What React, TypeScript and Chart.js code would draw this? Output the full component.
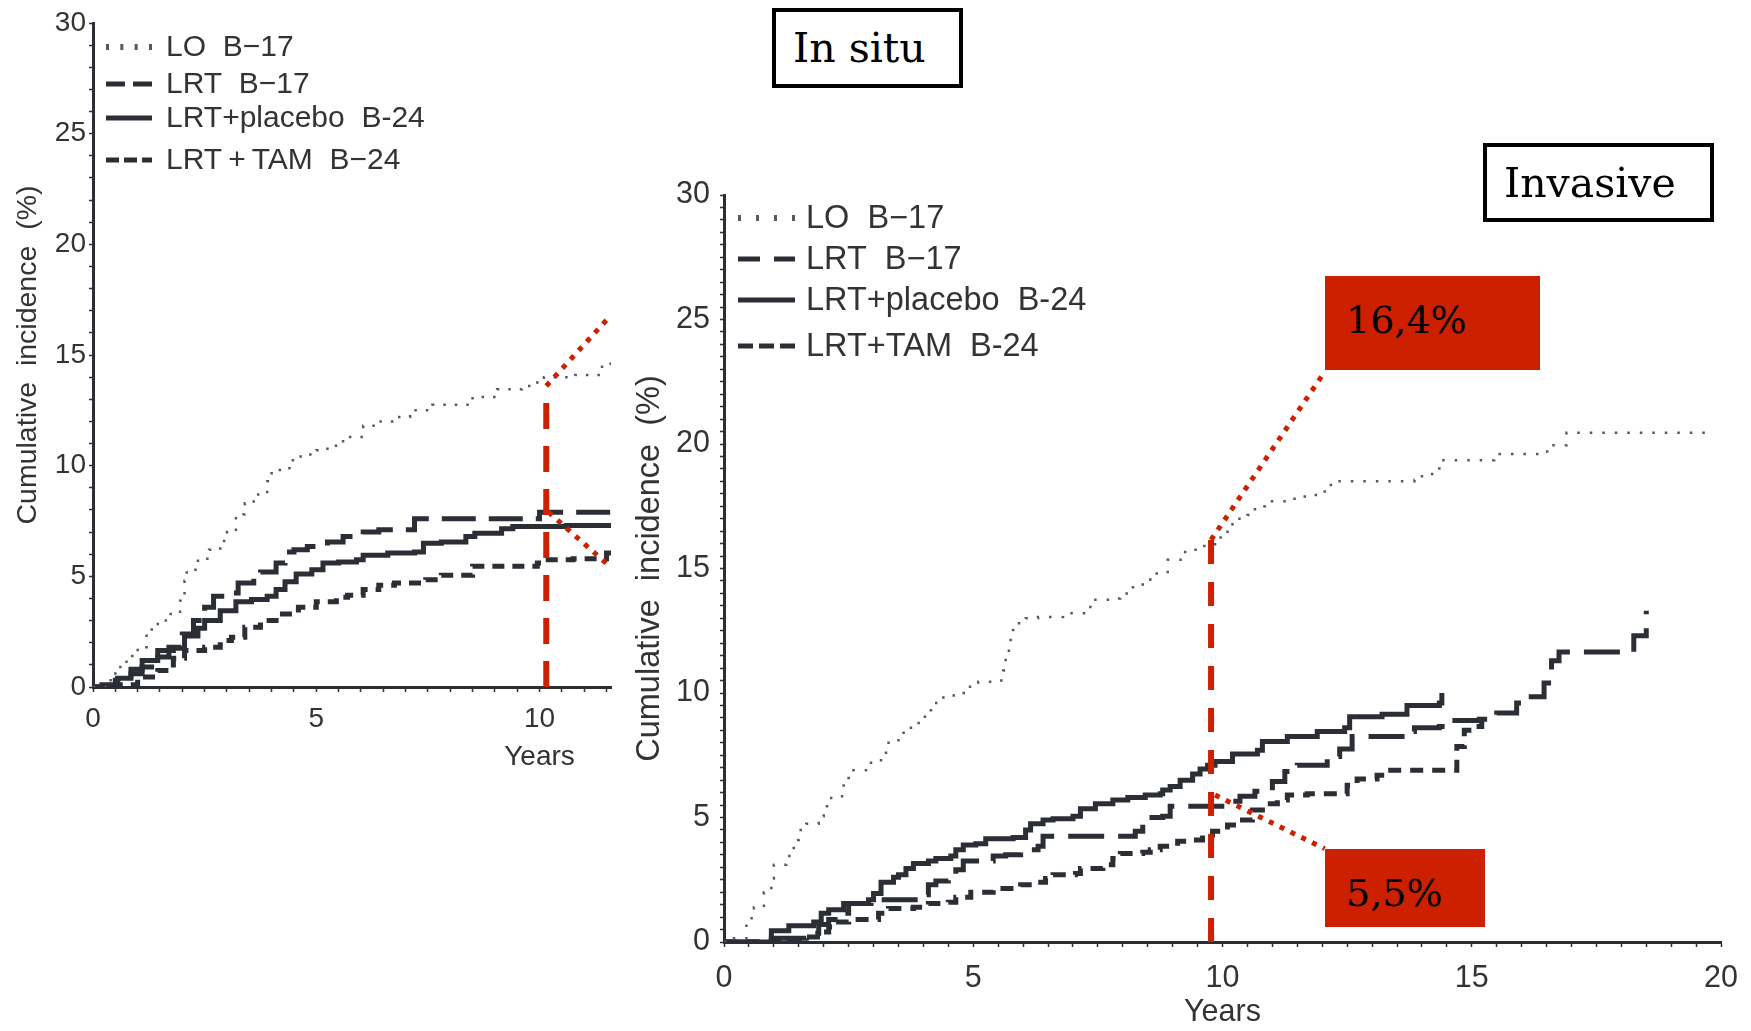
import React, { useEffect, useRef } from 'react';
import { Chart, registerables } from 'chart.js';

Chart.register(...registerables);

type Pt = [number, number];

// ---------------- DATA ----------------
// Left panel: "In situ"
const IN_SITU_X_MAX = 11.6;
const IN_SITU_LO: Pt[] = [[0,0],[0.3,0.3],[0.5,0.9],[0.75,1.4],[1.0,1.8],[1.2,2.6],[1.45,3.0],[1.7,3.3],[1.95,3.9],[2.05,4.8],[2.1,5.3],[2.35,5.8],[2.6,6.2],[2.85,6.6],[3.0,7.0],[3.2,7.8],[3.4,8.3],[3.6,8.7],[3.9,9.3],[4.0,9.8],[4.4,10.25],[4.65,10.5],[5.0,10.7],[5.25,10.9],[5.6,11.3],[6.05,11.8],[6.4,12.0],[6.75,12.2],[7.1,12.5],[7.6,12.75],[8.2,12.75],[8.5,13.1],[9.05,13.45],[9.6,13.6],[9.95,13.85],[10.1,14.0],[10.8,14.1],[11.4,14.6],[11.6,14.6]];
const IN_SITU_LRT: Pt[] = [[0,0],[0.5,0.3],[0.85,0.6],[1.1,0.9],[1.45,1.35],[1.7,1.8],[2.0,2.4],[2.25,3.0],[2.5,3.6],[2.7,4.1],[2.95,4.25],[3.25,4.7],[3.6,5.0],[3.75,5.2],[4.1,5.6],[4.3,6.1],[4.5,6.2],[4.8,6.35],[5.25,6.55],[5.6,6.8],[6.05,7.0],[6.4,7.1],[7.2,7.6],[10.0,7.9],[11.6,7.9]];
const IN_SITU_PLACEBO: Pt[] = [[0,0],[0.2,0.1],[0.55,0.4],[0.85,0.8],[1.1,1.2],[1.45,1.65],[1.8,1.75],[2.05,2.3],[2.35,2.65],[2.5,3.0],[2.85,3.45],[3.2,3.85],[3.55,3.95],[3.9,4.1],[4.1,4.4],[4.3,4.75],[4.55,5.1],[4.9,5.3],[5.15,5.6],[5.5,5.65],[5.9,5.75],[6.05,5.95],[6.6,6.05],[7.2,6.1],[7.4,6.5],[7.8,6.55],[8.35,6.8],[8.55,6.95],[9.15,7.15],[9.4,7.25],[10.6,7.3],[11.6,7.3]];
const IN_SITU_TAM: Pt[] = [[0,0],[0.5,0.1],[1.0,0.45],[1.45,0.75],[1.8,1.3],[2.05,1.65],[2.5,1.8],[2.85,2.1],[3.1,2.25],[3.4,2.7],[3.75,3.0],[4.1,3.3],[4.6,3.6],[5.0,3.85],[5.45,4.05],[5.7,4.15],[6.05,4.4],[6.4,4.6],[6.75,4.7],[7.45,4.85],[7.8,5.05],[8.5,5.45],[9.95,5.6],[10.1,5.75],[10.75,5.8],[11.5,6.05],[11.6,6.05]];
const IN_SITU_MARK_V: Pt[] = [[10.15,0],[10.15,13.6]];
const IN_SITU_MARK_UP: Pt[] = [[10.15,13.6],[11.6,16.8]];
const IN_SITU_MARK_DOWN: Pt[] = [[10.2,7.9],[11.6,5.4]];

// Right panel: "Invasive"
const INVASIVE_X_MAX = 20;
const INVASIVE_LO: Pt[] = [[0,0],[0.1,0.15],[0.45,0.95],[0.6,1.4],[0.8,2.0],[0.95,2.55],[1.0,3.1],[1.25,3.45],[1.4,4.1],[1.5,4.5],[1.65,4.75],[1.9,5.05],[2.0,5.45],[2.15,5.85],[2.4,6.4],[2.5,6.9],[2.95,7.2],[3.15,7.45],[3.25,8.0],[3.5,8.4],[3.75,8.8],[3.95,9.05],[4.15,9.6],[4.4,9.9],[4.65,10.0],[4.9,10.25],[5.1,10.45],[5.4,10.5],[5.6,10.9],[5.65,11.7],[5.75,12.25],[5.8,12.8],[6.05,13.0],[6.3,13.05],[6.8,13.2],[7.3,13.45],[7.45,13.75],[7.8,13.8],[7.95,14.0],[8.15,14.25],[8.4,14.55],[8.55,14.8],[8.9,15.35],[9.25,15.75],[9.55,15.9],[9.85,16.25],[10.1,16.6],[10.2,17.0],[10.5,17.15],[10.65,17.5],[10.85,17.7],[11.4,17.8],[11.65,17.95],[11.9,18.0],[12.05,18.35],[12.3,18.5],[13.85,18.55],[14.0,18.8],[14.3,18.9],[14.35,19.35],[15.45,19.6],[16.4,19.7],[16.55,19.95],[16.9,20.45],[19.8,20.45]];
const INVASIVE_LRT: Pt[] = [[0,0],[0.95,0.15],[1.65,0.35],[1.9,0.7],[2.1,0.9],[2.4,1.15],[2.5,1.55],[2.95,1.7],[3.95,1.9],[4.1,2.3],[4.25,2.45],[4.5,2.7],[4.65,2.9],[4.8,3.25],[5.4,3.45],[5.65,3.5],[5.95,3.7],[6.3,3.85],[6.4,4.25],[8.25,4.45],[8.4,5.0],[8.8,5.05],[8.95,5.45],[10.1,5.5],[10.2,5.65],[10.35,5.85],[10.65,6.05],[11.0,6.45],[11.25,6.85],[11.5,7.1],[12.1,7.45],[12.35,7.75],[12.6,8.25],[13.8,8.45],[13.85,8.6],[14.35,8.65],[14.6,8.9],[15.15,8.95],[15.5,9.2],[15.9,9.6],[16.05,9.85],[16.45,10.4],[16.6,11.3],[16.75,11.65],[18.25,12.3],[18.5,13.3]];
const INVASIVE_PLACEBO: Pt[] = [[0,0],[0.95,0.45],[1.3,0.65],[1.8,0.8],[1.95,1.15],[2.1,1.3],[2.4,1.55],[2.9,1.7],[3.0,1.95],[3.15,2.4],[3.4,2.6],[3.5,2.7],[3.65,2.95],[3.8,3.15],[4.1,3.25],[4.25,3.35],[4.55,3.45],[4.65,3.7],[4.8,3.9],[5.05,3.95],[5.25,4.15],[5.8,4.2],[6.05,4.5],[6.15,4.75],[6.4,4.9],[6.6,4.95],[7.0,5.05],[7.15,5.35],[7.45,5.55],[7.8,5.7],[8.1,5.8],[8.45,5.9],[8.75,5.95],[8.8,6.1],[8.95,6.25],[9.15,6.5],[9.4,6.75],[9.55,6.95],[9.7,7.1],[9.85,7.25],[10.2,7.55],[10.7,7.7],[10.8,8.05],[11.3,8.25],[11.9,8.45],[12.45,8.6],[12.55,9.05],[13.2,9.15],[13.7,9.5],[14.35,9.6],[14.4,10.0]];
const INVASIVE_TAM: Pt[] = [[0,0],[1.3,0.05],[1.65,0.2],[1.95,0.4],[2.1,0.6],[2.25,0.8],[2.5,0.9],[3.1,1.15],[3.3,1.35],[3.8,1.4],[4.1,1.55],[4.5,1.6],[4.65,1.8],[4.95,2.0],[5.4,2.15],[5.95,2.3],[6.25,2.4],[6.45,2.55],[6.6,2.7],[7.05,2.75],[7.15,2.95],[7.6,3.1],[7.8,3.35],[7.95,3.55],[8.4,3.6],[8.55,3.7],[8.75,3.85],[9.1,4.05],[9.3,4.1],[9.6,4.3],[9.8,4.45],[10.1,4.7],[10.35,4.9],[10.6,5.3],[10.8,5.55],[11.1,5.7],[11.3,5.9],[11.7,5.95],[12.5,6.3],[12.7,6.55],[13.1,6.7],[13.25,6.9],[14.7,7.85],[14.85,8.5],[15.0,8.65],[15.2,8.9]];
const INVASIVE_MARK_V: Pt[] = [[9.77,0],[9.77,16.15]];
const INVASIVE_MARK_UP: Pt[] = [[9.77,16.15],[12.05,22.9]];
const INVASIVE_MARK_DOWN: Pt[] = [[9.85,5.9],[12.05,3.75]];

const Y_MAX = 30;
const X_LABEL_EVERY = 5;
const Y_LABEL_EVERY = 5;
const YEARS_AT = 10;

const IN_SITU_LABELS = ['LO  B\u221217', 'LRT  B\u221217', 'LRT+placebo  B-24', 'LRT\u2009+\u2009TAM  B\u221224'];
const INVASIVE_LABELS = ['LO  B\u221217', 'LRT  B\u221217', 'LRT+placebo  B-24', 'LRT+TAM  B-24'];
const Y_TITLE = 'Cumulative  incidence  (%)';
const X_TITLE = 'Years';

// ---------------- STYLE ----------------
const DARK = '#2b2e34';
const GREY = '#55585e';
const TEXT = '#333333';
const RED = '#cc2000';
const SANS = '"Liberation Sans", Arial, sans-serif';
const SERIF = '"DejaVu Serif", Georgia, serif';

interface PanelSpec {
  left: number; top: number; w: number; h: number;
  padTop: number; padRight: number; yAxisW: number; xAxisH: number;
  xMax: number; yStep: number;
  series: Pt[][]; labels: string[]; marks: Pt[][];
  tickFont: number; legendFont: number; titleFont: number; titlePad: number;
  yTickPad: number; xTickPad: number;
  legendRows: number[]; legendX0: number; legendX1: number; legendTextX: number;
  legendDashes: number[][]; lineDashes: number[][]; redDash: number[];
  yearsDy: number;
}

function decorPlugin(spec: PanelSpec) {
  return {
    id: 'decor',
    afterDraw(chart: any) {
      const { ctx, chartArea: ca } = chart;
      const xs = chart.scales.x;
      ctx.save();
      spec.legendRows.forEach((dy, i) => {
        const y = ca.top + dy;
        const x0 = ca.left + spec.legendX0;
        const x1 = ca.left + spec.legendX1;
        if (i === 0) {
          ctx.fillStyle = GREY;
          const n = 4;
          for (let k = 0; k < n; k++) {
            const px = x0 + (k * (x1 - x0 - 3)) / (n - 1);
            ctx.fillRect(px, y - 3, 3, 6);
          }
        } else {
          ctx.strokeStyle = DARK;
          ctx.lineWidth = 5;
          ctx.setLineDash(spec.legendDashes[i]);
          ctx.beginPath();
          ctx.moveTo(x0, y);
          ctx.lineTo(x1, y);
          ctx.stroke();
          ctx.setLineDash([]);
        }
        ctx.fillStyle = TEXT;
        ctx.font = `${spec.legendFont}px ${SANS}`;
        ctx.textBaseline = 'middle';
        ctx.textAlign = 'left';
        ctx.fillText(spec.labels[i], ca.left + spec.legendTextX, y + 1);
      });
      ctx.fillStyle = TEXT;
      ctx.font = `${spec.tickFont}px ${SANS}`;
      ctx.textAlign = 'center';
      ctx.textBaseline = 'middle';
      ctx.fillText(X_TITLE, xs.getPixelForValue(YEARS_AT), ca.bottom + spec.yearsDy);
      ctx.restore();
    },
  };
}

function buildConfig(spec: PanelSpec): any {
  const styles = [
    { borderColor: GREY, borderWidth: 2.5 },
    { borderColor: DARK, borderWidth: 5 },
    { borderColor: DARK, borderWidth: 5 },
    { borderColor: DARK, borderWidth: 5 },
  ];
  const toXY = (d: Pt[]) => d.map(([x, y]) => ({ x, y }));
  const red = [
    { data: toXY(spec.marks[0]), borderColor: RED, borderWidth: 6, borderDash: spec.redDash },
    { data: toXY(spec.marks[1]), borderColor: RED, borderWidth: 5, borderDash: [5, 7] },
    { data: toXY(spec.marks[2]), borderColor: RED, borderWidth: 5, borderDash: [5, 7] },
  ].map((d) => ({ ...d, pointRadius: 0, stepped: false, tension: 0, fill: false }));
  const black = spec.series.map((s, i) => ({
    label: spec.labels[i],
    data: toXY(s),
    ...styles[i],
    borderDash: spec.lineDashes[i],
    pointRadius: 0,
    stepped: true,
    fill: false,
  }));
  const labelCb = (every: number) => (v: number) =>
    Math.abs(v / every - Math.round(v / every)) < 1e-6 ? String(Math.round(v)) : '';
  return {
    type: 'line',
    data: { datasets: [...red, ...black] },
    options: {
      animation: false,
      responsive: false,
      maintainAspectRatio: false,
      layout: { padding: { top: spec.padTop, right: spec.padRight, left: 0, bottom: 0 } },
      plugins: { legend: { display: false }, tooltip: { enabled: false }, title: { display: false } },
      scales: {
        x: {
          type: 'linear',
          min: 0,
          max: spec.xMax,
          afterFit: (s: any) => { s.height = spec.xAxisH; },
          ticks: {
            stepSize: 0.5,
            autoSkip: false,
            includeBounds: false,
            maxRotation: 0,
            minRotation: 0,
            color: TEXT,
            font: { size: spec.tickFont, family: SANS },
            padding: spec.xTickPad,
            callback: labelCb(X_LABEL_EVERY),
          },
          grid: { display: true, drawOnChartArea: false, drawTicks: true, tickLength: 5, tickWidth: 1.5, tickColor: DARK },
          border: { display: true, color: DARK, width: 3 },
        },
        y: {
          type: 'linear',
          min: 0,
          max: Y_MAX,
          afterFit: (s: any) => { s.width = spec.yAxisW; },
          ticks: {
            stepSize: spec.yStep,
            autoSkip: false,
            color: TEXT,
            font: { size: spec.tickFont, family: SANS },
            padding: spec.yTickPad,
            callback: labelCb(Y_LABEL_EVERY),
          },
          grid: { display: true, drawOnChartArea: false, drawTicks: true, tickLength: 4, tickWidth: 1.5, tickColor: DARK },
          border: { display: true, color: DARK, width: 3 },
          title: {
            display: true,
            text: Y_TITLE,
            color: TEXT,
            font: { size: spec.titleFont, family: SANS },
            padding: { top: spec.titlePad, bottom: 0 },
          },
        },
      },
    },
    plugins: [decorPlugin(spec)],
  };
}

const IN_SITU_SPEC: PanelSpec = {
  left: 0, top: 0, w: 640, h: 780,
  padTop: 23, padRight: 29, yAxisW: 93, xAxisH: 93,
  xMax: IN_SITU_X_MAX, yStep: 1,
  series: [IN_SITU_LO, IN_SITU_LRT, IN_SITU_PLACEBO, IN_SITU_TAM],
  labels: IN_SITU_LABELS,
  marks: [IN_SITU_MARK_V, IN_SITU_MARK_UP, IN_SITU_MARK_DOWN],
  tickFont: 28, legendFont: 30, titleFont: 28.5, titlePad: 11,
  yTickPad: 3, xTickPad: 10,
  legendRows: [24, 61, 95, 137], legendX0: 13, legendX1: 59, legendTextX: 73,
  legendDashes: [[], [19, 8], [], [13, 5]],
  lineDashes: [[2.5, 9], [34, 13], [], [12, 8]],
  redDash: [26, 17],
  yearsDy: 70,
};

const INVASIVE_SPEC: PanelSpec = {
  left: 630, top: 160, w: 1121, h: 871,
  padTop: 35, padRight: 28, yAxisW: 94, xAxisH: 89,
  xMax: INVASIVE_X_MAX, yStep: 0.5,
  series: [INVASIVE_LO, INVASIVE_LRT, INVASIVE_PLACEBO, INVASIVE_TAM],
  labels: INVASIVE_LABELS,
  marks: [INVASIVE_MARK_V, INVASIVE_MARK_UP, INVASIVE_MARK_DOWN],
  tickFont: 30.5, legendFont: 32.5, titleFont: 32.5, titlePad: 1,
  yTickPad: 10, xTickPad: 13,
  legendRows: [23, 64, 105, 151], legendX0: 14, legendX1: 71, legendTextX: 82,
  legendDashes: [[], [22, 14], [], [15, 6]],
  lineDashes: [[2.5, 10], [36, 14], [], [13, 9]],
  redDash: [24, 18],
  yearsDy: 71,
};

function Panel({ spec }: { spec: PanelSpec }) {
  const ref = useRef<HTMLCanvasElement>(null);
  useEffect(() => {
    const chart = new Chart(ref.current as HTMLCanvasElement, buildConfig(spec));
    return () => chart.destroy();
  }, [spec]);
  return (
    <canvas
      ref={ref}
      width={spec.w}
      height={spec.h}
      style={{ position: 'absolute', left: spec.left, top: spec.top, width: spec.w, height: spec.h }}
    />
  );
}

const boxText: React.CSSProperties = {
  position: 'absolute',
  boxSizing: 'border-box',
  display: 'flex',
  alignItems: 'center',
  fontFamily: SERIF,
  color: '#000',
  whiteSpace: 'nowrap',
};

export default function App() {
  return (
    <div style={{ position: 'fixed', left: 0, top: 0, width: 1751, height: 1031, background: '#fff', overflow: 'hidden' }}>
      <Panel spec={IN_SITU_SPEC} />
      <Panel spec={INVASIVE_SPEC} />
      <div style={{ ...boxText, left: 772, top: 8, width: 191, height: 80, border: '4px solid #000', paddingLeft: 17, fontSize: 41 }}>In situ</div>
      <div style={{ ...boxText, left: 1483, top: 143, width: 231, height: 79, border: '4px solid #000', paddingLeft: 17, fontSize: 41 }}>Invasive</div>
      <div style={{ ...boxText, left: 1325, top: 276, width: 215, height: 94, background: RED, paddingLeft: 21, paddingBottom: 6, fontSize: 38 }}>16,4%</div>
      <div style={{ ...boxText, left: 1325, top: 849, width: 160, height: 78, background: RED, paddingLeft: 21, paddingTop: 10, fontSize: 38 }}>5,5%</div>
    </div>
  );
}
